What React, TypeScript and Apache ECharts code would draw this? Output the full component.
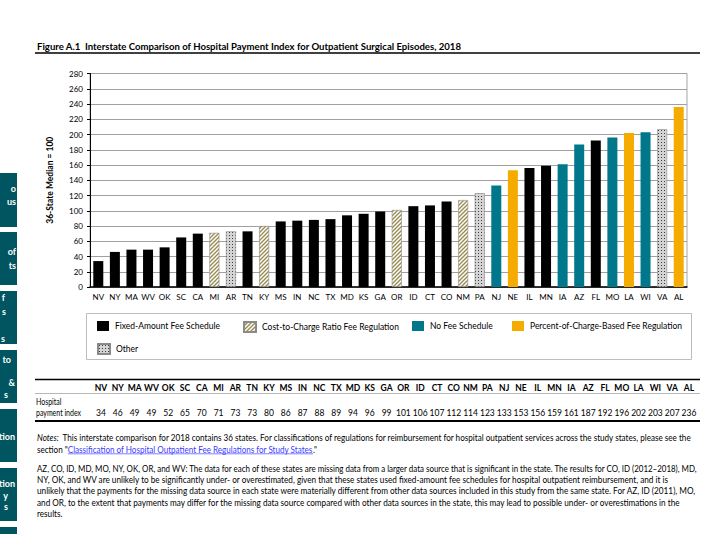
import React, { useEffect, useRef } from 'react';
import * as echarts from 'echarts';

// ---------- data ----------
const states = ['NV','NY','MA','WV','OK','SC','CA','MI','AR','TN','KY','MS','IN','NC','TX','MD','KS','GA','OR','ID','CT','CO','NM','PA','NJ','NE','IL','MN','IA','AZ','FL','MO','LA','WI','VA','AL'];
const paymentIndex = [34,46,49,49,52,65,70,71,73,73,80,86,87,88,89,94,96,99,101,106,107,112,114,123,133,153,156,159,161,187,192,196,202,203,207,236];
const regulation = ['F','F','F','F','F','F','F','C','O','F','C','F','F','F','F','F','F','F','C','F','F','F','C','O','N','P','F','F','N','N','F','N','P','N','O','P'];
const regulationKeys = ['F','C','N','P','O'];
const regulationNames = ['Fixed-Amount Fee Schedule','Cost-to-Charge Ratio Fee Regulation','No Fee Schedule','Percent-of-Charge-Based Fee Regulation','Other'];
const yMin = 0;
const yMax = 280;
const yStep = 20;

const titleText = 'Figure A.1  Interstate Comparison of Hospital Payment Index for Outpatient Surgical Episodes, 2018';
const yAxisTitle = '36-State Median = 100';
const rowLabel1 = 'Hospital';
const rowLabel2 = 'payment index';
const notesLabel = 'Notes:';
const notesLine1 = 'This interstate comparison for 2018 contains 36 states. For classifications of regulations for reimbursement for hospital outpatient services across the study states, please see the';
const notesLine2Pre = 'section "';
const notesLink = 'Classification of Hospital Outpatient Fee Regulations for Study States';
const notesLine2Post = '."';
const notesPara2 = [
  'AZ, CO, ID, MD, MO, NY, OK, OR, and WV: The data for each of these states are missing data from a larger data source that is significant in the state. The results for CO, ID (2012\u20132018), MD,',
  'NY, OK, and WV are unlikely to be significantly under- or overestimated, given that these states used fixed-amount fee schedules for hospital outpatient reimbursement, and it is',
  'unlikely that the payments for the missing data source in each state were materially different from other data sources included in this study from the same state. For AZ, ID (2011), MO,',
  'and OR, to the extent that payments may differ for the missing data source compared with other data sources in the state, this may lead to possible under- or overestimations in the',
  'results.'
];
// right edge of each notes line in the reference (null = natural width)
const notesPara2Ends = [698, 670, 698, 682, null];
// cut-off navigation fragments on the left edge
const sideBoxes = [
  { y: 173, h: 54, lines: [{ t: 'o', y: 189, r: 16 }, { t: 'us', y: 202, r: 16 }] },
  { y: 232, h: 53, lines: [{ t: 'of', y: 252, r: 16 }, { t: 'ts', y: 266, r: 16 }] },
  { y: 291, h: 53, lines: [{ t: 'f', y: 298, r: 5 }, { t: 's', y: 312, r: 6 }, { t: 's', y: 339, r: 5 }] },
  { y: 350, h: 53, lines: [{ t: 'to', y: 360, r: 11 }, { t: '&', y: 383, r: 15 }, { t: 's', y: 395, r: 8 }] },
  { y: 409, h: 53, lines: [{ t: 'tion', y: 437, r: 15 }] },
  { y: 468, h: 53, lines: [{ t: 'tion', y: 484, r: 15 }, { t: 'y', y: 496, r: 8 }, { t: 's', y: 507, r: 8 }] },
  { y: 527, h: 7, lines: [] }
];

const FONT = 'Lato';

function makeHatch() {
  const c = document.createElement('canvas');
  c.width = 4; c.height = 4;
  const g = c.getContext('2d')!;
  g.fillStyle = '#ffffff';
  g.fillRect(0, 0, 4, 4);
  g.strokeStyle = '#9a8b50';
  g.lineWidth = 1.4;
  g.beginPath();
  g.moveTo(-1, 5); g.lineTo(5, -1);
  g.moveTo(-1, 1); g.lineTo(1, -1);
  g.moveTo(3, 5); g.lineTo(5, 3);
  g.stroke();
  return { image: c.toDataURL(), repeat: 'repeat', imageWidth: 4, imageHeight: 4 };
}

function makeDots() {
  const c = document.createElement('canvas');
  c.width = 3; c.height = 3;
  const g = c.getContext('2d')!;
  g.fillStyle = '#d4d4d4';
  g.fillRect(0, 0, 3, 3);
  g.fillStyle = '#3a3a3a';
  g.fillRect(1, 1, 1, 1);
  return { image: c.toDataURL(), repeat: 'repeat', imageWidth: 3, imageHeight: 3 };
}

export default function App() {
  const ref = useRef<HTMLDivElement>(null);

  useEffect(() => {
    document.body.style.margin = '0';
    const mc = document.createElement('canvas').getContext('2d')!;
    const measure = (text: string, size: number, weight = 'normal', style = 'normal') => {
      mc.font = `${style} ${weight} ${size}px ${FONT}`;
      return mc.measureText(text).width;
    };

    const styles: Record<string, any> = {
      F: { color: '#000000' },
      C: { color: makeHatch(), borderColor: '#8a8a8a', borderWidth: 0.6 },
      N: { color: '#00778b' },
      P: { color: '#f5ab00' },
      O: { color: makeDots(), borderColor: '#8a8a8a', borderWidth: 0.6 }
    };

    const series = regulationKeys.map((k, si) => ({
      type: 'bar',
      name: regulationNames[si],
      barWidth: 10,
      barGap: '-100%',
      itemStyle: styles[k],
      data: paymentIndex.map((v, i) => (regulation[i] === k ? v : '-'))
    }));

    const legendPos = [
      { left: 97, top: 321 },
      { left: 243, top: 321 },
      { left: 412, top: 321 },
      { left: 512, top: 321 },
      { left: 97, top: 343 }
    ];
    const legend = regulationNames.map((n, i) => ({
      data: [n],
      left: legendPos[i].left,
      top: legendPos[i].top,
      padding: 0,
      itemWidth: 12,
      itemHeight: 10,
      selectedMode: false,
      icon: 'rect',
      textStyle: { fontSize: 8.5, color: '#000', fontFamily: FONT, padding: [0, 0, 0, 1] }
    }));

    const graphic: any[] = [];

    // title
    const titleW = measure(titleText, 10, 'bold');
    graphic.push({
      type: 'text', x: 37, y: 46, scaleX: 425 / titleW,
      style: { text: titleText, x: 0, y: 0, verticalAlign: 'middle', fill: '#000', fontSize: 10, fontWeight: 'bold', fontFamily: FONT }
    });
    graphic.push({ type: 'line', shape: { x1: 35, y1: 53, x2: 700, y2: 53 }, style: { stroke: '#000', lineWidth: 1.5 } });

    // legend frame
    graphic.push({ type: 'rect', shape: { x: 86.5, y: 313.5, width: 605, height: 46 }, style: { fill: 'none', stroke: '#bdbdbd', lineWidth: 1 } });

    // table
    const colX = (i: number) => 101 + i * 16.8;
    graphic.push({ type: 'line', shape: { x1: 35, y1: 379.5, x2: 700, y2: 379.5 }, style: { stroke: '#000', lineWidth: 1.5 } });
    graphic.push({ type: 'line', shape: { x1: 35, y1: 393.5, x2: 700, y2: 393.5 }, style: { stroke: '#9a9a9a', lineWidth: 0.7 } });
    graphic.push({ type: 'line', shape: { x1: 35, y1: 421, x2: 700, y2: 421 }, style: { stroke: '#000', lineWidth: 2 } });
    states.forEach((s, i) => {
      graphic.push({ type: 'text', style: { text: s, x: colX(i), y: 387.5, align: 'center', verticalAlign: 'middle', fill: '#000', fontSize: 8.5, fontWeight: 'bold', fontFamily: FONT } });
      graphic.push({ type: 'text', style: { text: String(paymentIndex[i]), x: colX(i), y: 413, align: 'center', verticalAlign: 'middle', fill: '#000', fontSize: 8.5, fontFamily: FONT } });
    });
    const rowScale = 45 / measure(rowLabel2, 9.5);
    graphic.push({ type: 'text', x: 36, y: 401.5, scaleX: rowScale, style: { text: rowLabel1, x: 0, y: 0, verticalAlign: 'middle', fill: '#000', fontSize: 9.5, fontFamily: FONT } });
    graphic.push({ type: 'text', x: 36, y: 413, scaleX: rowScale, style: { text: rowLabel2, x: 0, y: 0, verticalAlign: 'middle', fill: '#000', fontSize: 9.5, fontFamily: FONT } });

    // notes
    const NS = 9.5;
    const base = { verticalAlign: 'middle', fill: '#000', fontSize: NS, fontFamily: FONT };
    const notesLabelW = measure(notesLabel + '  ', NS, 'normal', 'italic');
    const l1W = notesLabelW + measure(notesLine1, NS);
    graphic.push({
      type: 'group', x: 37, y: 437.5, scaleX: 655 / l1W,
      children: [
        { type: 'text', style: { ...base, text: notesLabel, x: 0, y: 0, fontStyle: 'italic' } },
        { type: 'text', style: { ...base, text: notesLine1, x: notesLabelW, y: 0 } }
      ]
    });
    const preW = measure(notesLine2Pre, NS);
    const linkW = measure(notesLink, NS);
    const postW = measure(notesLine2Post, NS);
    graphic.push({
      type: 'group', x: 37, y: 449, scaleX: 280 / (preW + linkW + postW),
      children: [
        { type: 'text', style: { ...base, text: notesLine2Pre, x: 0, y: 0 } },
        { type: 'text', style: { ...base, text: notesLink, x: preW, y: 0, fill: '#3b3bff' } },
        { type: 'line', shape: { x1: preW, y1: 4.8, x2: preW + linkW, y2: 4.8 }, style: { stroke: '#3b3bff', lineWidth: 0.7 } },
        { type: 'text', style: { ...base, text: notesLine2Post, x: preW + linkW, y: 0 } }
      ]
    });
    const scales = notesPara2.map((t, i) => (notesPara2Ends[i] ? (notesPara2Ends[i]! - 37) / measure(t, NS) : 0));
    const fitted = scales.filter((s) => s > 0);
    const avgScale = fitted.reduce((a, b) => a + b, 0) / fitted.length;
    notesPara2.forEach((t, i) => {
      graphic.push({ type: 'text', x: 37, y: 468 + i * 11.3, scaleX: scales[i] || avgScale, style: { ...base, text: t, x: 0, y: 0 } });
    });

    const option: any = {
      animation: false,
      textStyle: { fontFamily: FONT },
      grid: { left: 90, right: 40, top: 73.5, bottom: 247, show: true, borderColor: '#a6a6a6', borderWidth: 1, backgroundColor: 'transparent' },
      legend,
      xAxis: {
        type: 'category',
        data: states,
        axisLine: { lineStyle: { color: '#000', width: 1.5 } },
        axisTick: { show: false },
        axisLabel: { interval: 0, fontSize: 8, color: '#000', margin: 6, fontFamily: FONT }
      },
      yAxis: {
        type: 'value',
        min: yMin,
        max: yMax,
        interval: yStep,
        name: yAxisTitle,
        nameLocation: 'middle',
        nameRotate: 90,
        nameGap: 36,
        nameTextStyle: { fontSize: 8.5, fontWeight: 'bold', color: '#000', fontFamily: FONT },
        axisLine: { show: true, lineStyle: { color: '#000', width: 1 } },
        axisTick: { show: true, length: 3, lineStyle: { color: '#000' } },
        axisLabel: { fontSize: 8, color: '#000', margin: 7, fontFamily: FONT },
        splitLine: { lineStyle: { color: '#a0a0a0', width: 1 } }
      },
      series,
      graphic
    };

    const chart = echarts.init(ref.current!, null, { renderer: 'svg' });
    chart.setOption(option);
    return () => chart.dispose();
  }, []);

  return (
    <div style={{ position: 'relative', width: 727, height: 534 }}>
      <div ref={ref} style={{ width: 727, height: 534 }} />
      {sideBoxes.map((b, bi) => (
        <div
          key={bi}
          style={{ position: 'absolute', zIndex: 10, left: 0, top: b.y, width: 17, height: b.h, backgroundColor: '#005560' }}
        >
          {b.lines.map((l, li) => (
            <span
              key={li}
              style={{
                position: 'absolute', right: 17 - l.r, top: l.y - b.y - 6, lineHeight: '12px',
                color: '#ffffff', fontFamily: FONT, fontWeight: 'bold', fontSize: 9, whiteSpace: 'nowrap'
              }}
            >
              {l.t}
            </span>
          ))}
        </div>
      ))}
    </div>
  );
}
